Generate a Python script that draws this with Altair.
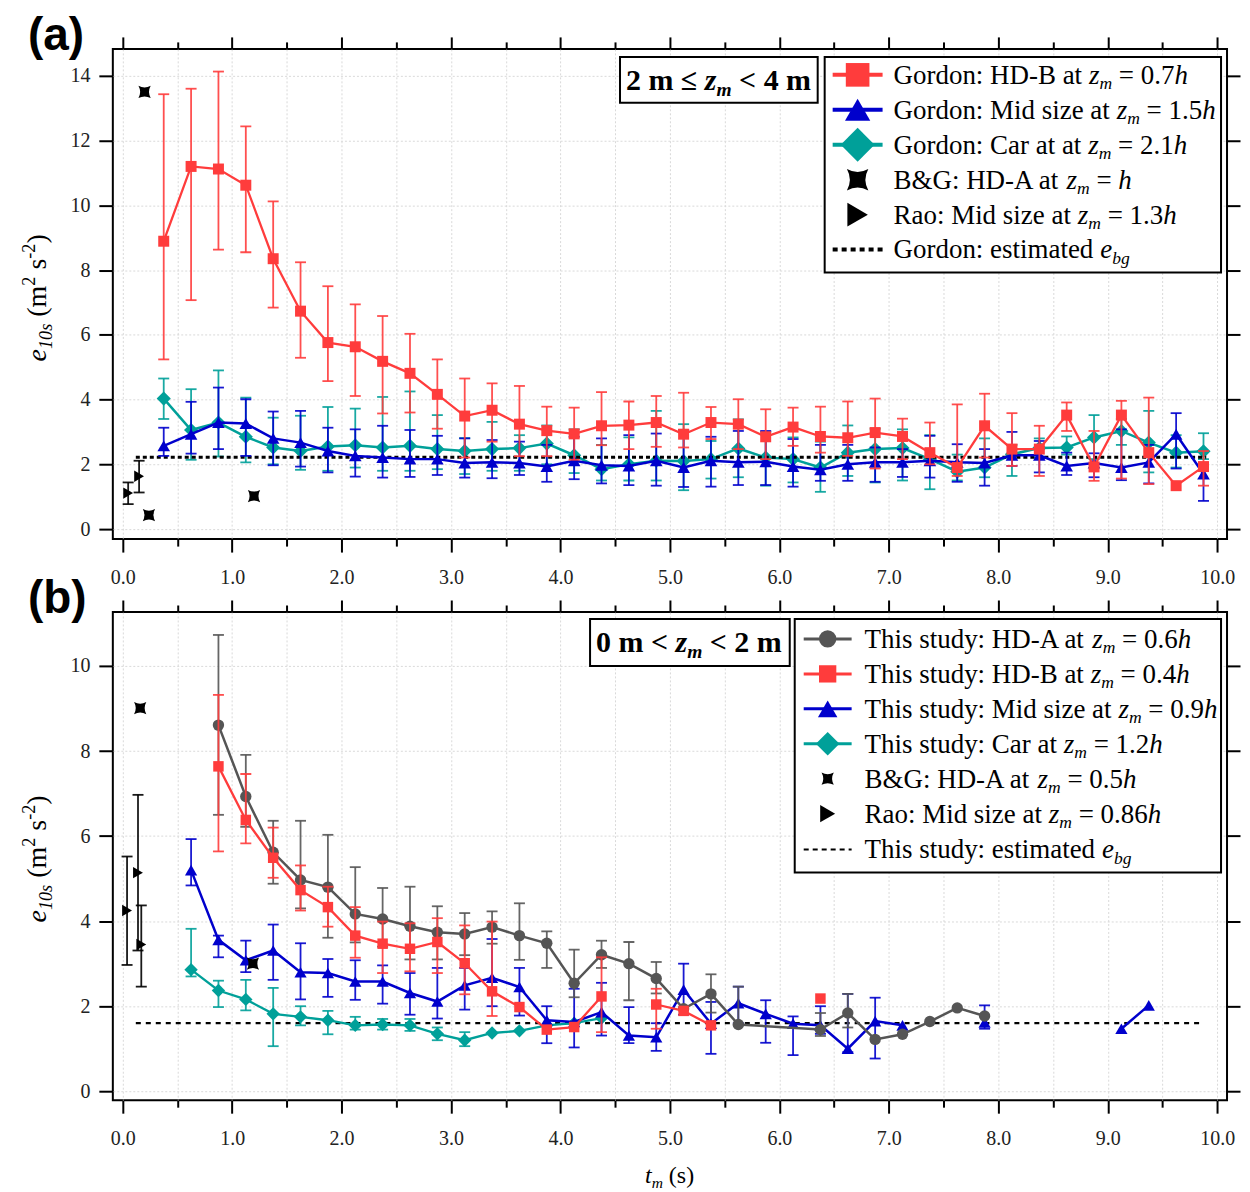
import altair as alt
import pandas as pd

SERIF = "Liberation Serif"
SANS = "Liberation Sans"
RED = "#FF3C3C"
BLUE = "#0000CC"
TEAL = "#00A099"
GRAY = "#555555"
BLACK = "#000000"
STAR = "M-1,-1Q0,-0.45 1,-1Q0.45,0 1,1Q0,0.45 -1,1Q-0.45,0 -1,-1Z"

# ---------------- panel (a) data ----------------
A_T = [0.375, 0.625, 0.875, 1.125, 1.375, 1.625, 1.875, 2.125, 2.375, 2.625,
       2.875, 3.125, 3.375, 3.625, 3.875, 4.125, 4.375, 4.625, 4.875, 5.125,
       5.375, 5.625, 5.875, 6.125, 6.375, 6.625, 6.875, 7.125, 7.375, 7.625,
       7.875, 8.125, 8.375, 8.625, 8.875, 9.125, 9.375, 9.625, 9.875]
A_RED = [8.89, 11.2, 11.12, 10.62, 8.35, 6.73, 5.76, 5.63, 5.18, 4.81,
         4.16, 3.49, 3.67, 3.24, 3.04, 2.94, 3.19, 3.21, 3.29, 2.93,
         3.29, 3.24, 2.85, 3.15, 2.86, 2.82, 2.98, 2.86, 2.36, 1.90,
         3.19, 2.47, 2.47, 3.52, 1.92, 3.52, 2.36, 1.34, 1.93]
A_RED_LO = [5.24, 7.07, 8.63, 8.55, 6.84, 5.29, 4.57, 4.11, 3.57, 3.60,
            3.10, 2.21, 2.70, 2.25, 2.25, 2.14, 2.59, 2.47, 2.54, 2.52,
            2.78, 2.47, 2.16, 2.57, 2.36, 2.26, 1.87, 2.16, 2.00, 1.64,
            2.21, 1.95, 1.64, 3.03, 1.49, 1.56, 1.39, None, 1.34]
A_RED_HI = [13.43, 13.6, 14.13, 12.44, 10.12, 8.24, 7.50, 6.94, 6.58, 6.03,
            5.24, 4.65, 4.50, 4.42, 3.78, 3.75, 4.23, 3.94, 4.11, 4.21,
            3.77, 4.01, 3.70, 3.75, 3.78, 3.94, 4.03, 3.41, 3.29, 3.85,
            4.18, 3.58, 3.19, 3.91, 3.03, 3.96, 4.06, None, 2.41]
A_BLUE = [2.57, 2.93, 3.29, 3.26, 2.80, 2.67, 2.41, 2.26, 2.21, 2.16,
          2.16, 2.04, 2.06, 2.04, 1.93, 2.11, 1.97, 1.95, 2.11, 1.90,
          2.11, 2.06, 2.08, 1.93, 1.83, 2.00, 2.06, 2.06, 2.11, 2.06,
          2.04, 2.28, 2.28, 1.95, 2.04, 1.90, 2.06, 2.93, 1.70]
A_BLUE_LO = [2.26, 2.33, 2.47, 2.26, 1.97, 1.93, 1.75, 1.62, 1.59, 1.61,
             1.67, 1.59, 1.57, 1.67, 1.46, 1.54, 1.41, 1.36, 1.34, 1.30,
             1.31, 1.36, 1.36, 1.31, 1.49, 1.49, 1.46, 1.61, 1.59, 1.46,
             1.34, 1.95, 1.75, 1.67, 1.60, 1.51, 1.41, 1.87, 0.87]
A_BLUE_HI = [3.13, 3.93, 4.37, 4.01, 3.63, 3.65, 3.13, 3.08, 3.19, 3.06,
             2.88, 2.80, 2.75, 2.70, 2.60, 2.85, 2.80, 2.90, 2.95, 3.06,
             2.85, 3.03, 3.03, 2.78, 2.60, 2.60, 2.52, 2.47, 2.88, 2.62,
             2.47, 3.00, 2.72, 2.36, 2.34, 3.08, 2.60, 3.58, 1.95]
A_TEAL = [4.03, 3.06, 3.29, 2.85, 2.52, 2.41, 2.55, 2.59, 2.52, 2.57,
          2.47, 2.41, 2.47, 2.50, 2.64, 2.28, 1.85, 2.00, 2.11, 2.10,
          2.16, 2.49, 2.21, 2.16, 1.90, 2.36, 2.47, 2.50, 2.16, 1.77,
          1.90, 2.31, 2.50, 2.52, 2.83, 3.03, 2.67, 2.36, 2.40]
A_TEAL_LO = [3.40, 2.14, 2.24, 2.06, 2.00, 1.83, 1.80, 1.90, 1.80, 1.80,
             1.85, 1.70, 1.80, 1.80, 2.00, 1.73, 1.50, 1.50, 1.50, 1.20,
             1.56, 1.60, 1.34, 1.44, 1.15, 1.64, 1.44, 1.50, 1.23, 1.50,
             1.60, 1.64, 2.20, 2.30, 2.16, 2.60, 1.75, 1.90, 2.16]
A_TEAL_HI = [4.65, 4.32, 4.90, 4.06, 3.44, 3.50, 3.77, 3.72, 4.08, 4.25,
             3.52, 2.81, 3.31, 2.90, 3.20, 3.08, 2.60, 2.83, 3.65, 3.24,
             2.72, 3.39, 3.00, 2.83, 2.70, 3.20, 3.10, 3.08, 2.90, 2.30,
             2.80, 2.60, 2.80, 2.86, 3.52, 3.40, 3.65, 2.90, 2.96]
A_BG_T = [0.20, 0.24, 1.20]
A_BG_V = [13.5, 0.43, 1.02]
A_BG_LO = [None, 0.36, None]
A_BG_HI = [None, 0.50, None]
A_RAO_T = [0.05, 0.15]
A_RAO_V = [1.11, 1.63]
A_RAO_LO = [0.77, 1.13]
A_RAO_HI = [1.44, 2.11]
A_EBG_T = [0.12, 9.90]
A_EBG_V = [2.22, 2.22]

# ---------------- panel (b) data ----------------
B_GRAY_T = [0.875, 1.125, 1.375, 1.625, 1.875, 2.125, 2.375, 2.625, 2.875, 3.125,
            3.375, 3.625, 3.875, 4.125, 4.375, 4.625, 4.875, 5.125, 5.375, 5.625,
            6.375, 6.625, 6.875, 7.125, 7.375, 7.625, 7.875]
B_GRAY = [8.61, 6.93, 5.62, 4.97, 4.80, 4.17, 4.05, 3.88, 3.74, 3.70,
          3.86, 3.66, 3.48, 2.54, 3.21, 3.00, 2.65, 1.94, 2.29, 1.57,
          1.45, 1.84, 1.22, 1.34, 1.64, 1.96, 1.77]
B_GRAY_LO = [6.50, 6.22, 4.88, 4.30, 3.61, 3.50, 3.40, 3.10, 3.10, 3.20,
             3.47, 3.09, 2.90, 2.21, 2.90, 2.14, 2.30, None, 1.85, 1.55,
             1.30, 1.50, None, None, None, None, None]
B_GRAY_HI = [10.73, 7.91, 6.36, 6.36, 6.03, 5.27, 4.78, 4.81, 4.35, 4.19,
             4.23, 4.42, 3.76, 3.33, 3.54, 3.51, 3.04, None, 2.75, 2.46,
             1.84, 2.29, None, None, None, None, None]
B_GRAY_SEG = [0] * 27
B_RED_T = [0.875, 1.125, 1.375, 1.625, 1.875, 2.125, 2.375, 2.625, 2.875, 3.125,
           3.375, 3.625, 3.875, 4.125, 4.375, 4.875, 5.125, 5.375, 6.375]
B_RED = [7.64, 6.38, 5.49, 4.73, 4.33, 3.66, 3.47, 3.35, 3.51, 3.01,
         2.35, 1.98, 1.45, 1.51, 2.23, 2.04, 1.89, 1.55, 2.18]
B_RED_LO = [5.64, 5.83, 5.02, 4.25, 3.87, 3.14, 2.78, 2.82, 2.78, 2.28,
            1.77, None, None, None, 1.39, 1.47, None, None, None]
B_RED_HI = [9.32, 7.46, 6.20, 5.31, 4.81, 4.33, 3.99, 3.95, 4.07, 3.90,
            3.99, None, None, None, 3.15, 2.41, None, None, None]
B_RED_SEG = [0] * 15 + [1, 1, 1, 2]
B_BLUE_T = [0.625, 0.875, 1.125, 1.375, 1.625, 1.875, 2.125, 2.375, 2.625, 2.875,
            3.125, 3.375, 3.625, 3.875, 4.125, 4.375, 4.625, 4.875, 5.125, 5.375,
            5.625, 5.875, 6.125, 6.375, 6.625, 6.875, 7.125, 7.875, 9.125, 9.375]
B_BLUE = [5.20, 3.56, 3.08, 3.31, 2.80, 2.78, 2.58, 2.58, 2.31, 2.11,
          2.49, 2.67, 2.45, 1.67, 1.63, 1.86, 1.31, 1.27, 2.39, 1.59,
          2.07, 1.82, 1.59, 1.55, 1.00, 1.65, 1.55, 1.62, 1.47, 2.02]
B_BLUE_LO = [4.84, 3.15, 2.80, 2.62, 2.16, 2.22, 2.15, 2.06, 1.80, 1.71,
             1.92, 2.00, 1.78, 1.13, 1.03, 1.31, 1.13, 0.95, 1.80, 0.88,
             1.60, 1.14, 0.85, 1.35, 0.92, 0.77, None, 1.47, None, None]
B_BLUE_HI = [5.93, 3.66, 3.54, 3.92, 3.48, 3.11, 3.08, 2.96, 2.78, 2.90,
             2.90, 3.58, 2.90, 2.00, 2.41, 2.55, 1.98, 1.60, 3.00, 2.10,
             2.46, 2.14, 1.76, 2.00, 2.29, 2.20, None, 2.02, None, None]
B_BLUE_SEG = [0] * 27 + [1, 2, 2]
B_TEAL_T = [0.625, 0.875, 1.125, 1.375, 1.625, 1.875, 2.125, 2.375, 2.625, 2.875,
            3.125, 3.375, 3.625, 3.875, 4.125, 4.375]
B_TEAL = [2.86, 2.37, 2.16, 1.82, 1.75, 1.67, 1.55, 1.57, 1.55, 1.35,
          1.20, 1.37, 1.42, 1.55, 1.60, 1.72]
B_TEAL_LO = [2.70, 1.98, 1.90, 1.06, 1.55, 1.34, 1.45, 1.45, 1.42, 1.20,
             1.06, None, None, None, None, None]
B_TEAL_HI = [3.82, 2.60, 2.62, 2.43, 2.00, 1.89, 1.75, 1.70, 1.70, 1.50,
             1.39, None, None, None, None, None]
B_BG_T = [0.16, 1.19]
B_BG_V = [9.01, 3.00]
B_RAO_T = [0.04, 0.14, 0.17]
B_RAO_V = [4.25, 5.14, 3.45]
B_RAO_LO = [2.97, 3.31, 2.46]
B_RAO_HI = [5.52, 6.97, 4.37]
B_EBG_T = [0.12, 9.88]
B_EBG_V = [1.60, 1.60]

# ---------------- axes ----------------
X_TICKS = [0.0, 0.5, 1.0, 1.5, 2.0, 2.5, 3.0, 3.5, 4.0, 4.5, 5.0,
           5.5, 6.0, 6.5, 7.0, 7.5, 8.0, 8.5, 9.0, 9.5, 10.0]
A_Y_TICKS = [0, 2, 4, 6, 8, 10, 12, 14]
B_Y_TICKS = [0, 2, 4, 6, 8, 10]
X_DOMAIN = [-0.09, 10.09]
A_Y_DOMAIN = [-0.31, 14.83]
B_Y_DOMAIN = [-0.21, 11.27]

W = 1116
A_H = 491
B_H = 489
LEG_FS = 27
ANN_FS = 30

ONE = pd.DataFrame({"k": [0]})

# Times / Liberation Serif advance widths (per 1000 em)
W_R = {' ': 250, ':': 278, '=': 564, '.': 250, '&': 778, '-': 333, '(': 333, ')': 333,
       '<': 564, '≤': 549, 'A': 722, 'B': 667, 'C': 667, 'D': 722, 'G': 722, 'H': 722,
       'M': 889, 'R': 667, 'T': 611, 'a': 444, 'b': 500, 'c': 444, 'd': 500, 'e': 444,
       'g': 500, 'h': 500, 'i': 278, 'l': 278, 'm': 778, 'n': 500, 'o': 500, 'r': 333,
       's': 389, 't': 278, 'u': 500, 'y': 500, 'z': 444}
W_I = {'z': 389, 'm': 722, 'h': 500, 'e': 444, 'b': 500, 'g': 500, 't': 278, 's': 389}
W_B = {' ': 250, 'm': 833, '<': 570, '≤': 549}
W_BI = {'z': 389, 'm': 778}


def tw(s, size, style):
    tbl = {"r": W_R, "i": W_I, "b": W_B, "bi": W_BI}[style]
    tot = 0
    for ch in s:
        if ch.isdigit():
            tot += 500
        else:
            tot += tbl.get(ch, W_R.get(ch, 500))
    return tot * size / 1000.0


def rich(segs, x0, y0, size, angle=0, color=BLACK):
    out = []
    u = 0.0
    for text, style, kind in segs:
        s = size * 0.65 if kind in ("sub", "sup") else size
        v = 0.2 * size if kind == "sub" else (-0.38 * size if kind == "sup" else 0.0)
        body = text.strip(" ")
        lead = len(text) - len(text.lstrip(" "))
        trail = len(text) - len(text.rstrip(" "))
        u += tw(" " * lead, s, style)
        if angle == 0:
            x, y = x0 + u, y0 + v
        else:
            x, y = x0 + v, y0 - u
        if body:
            out.append(alt.Chart(ONE).mark_text(
                text=body, font=SERIF, fontSize=s,
                fontStyle="italic" if "i" in style else "normal",
                fontWeight="bold" if "b" in style else "normal",
                align="left", baseline="alphabetic", angle=angle, color=color,
            ).encode(x=alt.value(x), y=alt.value(y)))
        u += tw(body, s, style) + tw(" " * trail, s, style)
    return out


def zlab(prefix, num):
    return [(prefix, "r", "n"), ("z", "i", "n"), ("m", "i", "sub"),
            (" = " + num, "r", "n"), ("h", "i", "n")]


def make_df(t, v, lo=None, hi=None, seg=None):
    n = len(t)
    return pd.DataFrame({
        "t": t, "v": v,
        "lo": lo if lo is not None else [None] * n,
        "hi": hi if hi is not None else [None] * n,
        "seg": seg if seg is not None else [0] * n,
    })


def axes_layers(df, xs, ys, yticks):
    major = "datum.value % 1 === 0"
    bottom = alt.Axis(orient="bottom", values=X_TICKS, title=None, domain=False,
                      labelExpr=f"{major} ? format(datum.value, '.1f') : ''",
                      labelFont=SERIF, labelFontSize=20, labelColor="#222222",
                      labelPadding=15, tickColor=BLACK, tickWidth=2,
                      tickSize={"condition": {"test": major, "value": 13}, "value": 7},
                      grid=True, gridColor="#d9d9d9", gridDash=[2, 2], gridWidth=1)
    left = alt.Axis(orient="left", values=yticks, title=None, domain=False,
                    labelFont=SERIF, labelFontSize=20, labelColor="#222222",
                    labelPadding=9, tickColor=BLACK, tickWidth=2, tickSize=14,
                    grid=True, gridColor="#d9d9d9", gridDash=[2, 2], gridWidth=1)
    top = alt.Axis(orient="top", values=X_TICKS, title=None, domain=False, labels=False,
                   tickColor=BLACK, tickWidth=2, grid=False,
                   tickSize={"condition": {"test": major, "value": 12}, "value": 7})
    right = alt.Axis(orient="right", values=yticks, title=None, domain=False, labels=False,
                     tickColor=BLACK, tickWidth=2, tickSize=13, grid=False)
    l1 = alt.Chart(df).mark_line(opacity=0).encode(
        x=alt.X("t:Q", scale=xs, axis=bottom), y=alt.Y("v:Q", scale=ys, axis=left))
    l2 = alt.Chart(df).mark_line(opacity=0).encode(
        x=alt.X("t:Q", scale=xs, axis=top), y=alt.Y("v:Q", scale=ys, axis=right))
    return [l1, l2]


def series(df, xs, ys, color, shape, size, lw=2.5, line=True, ebw=1.8, cap=11,
           ecolor=None, eop=0.9):
    ec = ecolor or color
    X = alt.X("t:Q", scale=xs, axis=None)
    out = []
    e = df.dropna(subset=["lo", "hi"])
    if len(e):
        ch = alt.Chart(e)
        out.append(ch.mark_rule(color=ec, strokeWidth=ebw, opacity=eop).encode(
            x=X, y=alt.Y("lo:Q", scale=ys, axis=None), y2="hi:Q"))
        out.append(ch.mark_tick(color=ec, orient="horizontal", size=cap, thickness=ebw,
                                opacity=eop).encode(
            x=X, y=alt.Y("lo:Q", scale=ys, axis=None)))
        out.append(ch.mark_tick(color=ec, orient="horizontal", size=cap, thickness=ebw,
                                opacity=eop).encode(
            x=X, y=alt.Y("hi:Q", scale=ys, axis=None)))
    if line:
        out.append(alt.Chart(df).mark_line(color=color, strokeWidth=lw).encode(
            x=X, y=alt.Y("v:Q", scale=ys, axis=None), detail="seg:N"))
    out.append(alt.Chart(df).mark_point(filled=True, shape=shape, size=size, color=color,
                                        opacity=1, strokeWidth=0).encode(
        x=X, y=alt.Y("v:Q", scale=ys, axis=None)))
    return out


def ebg_layer(df, xs, ys, dash, width):
    return alt.Chart(df).mark_line(color=BLACK, strokeDash=dash, strokeWidth=width).encode(
        x=alt.X("t:Q", scale=xs, axis=None), y=alt.Y("v:Q", scale=ys, axis=None))


def box(x1, x2, y1, y2):
    return alt.Chart(ONE).mark_rect(fill="white", stroke=BLACK, strokeWidth=2).encode(
        x=alt.value(x1), x2=alt.value(x2), y=alt.value(y1), y2=alt.value(y2))


def legend(entries, bx, line_x, mark_x, text_x, rows, fsize, lw, dot_w, dot_dash):
    out = [box(*bx)]
    for (kind, color, shape, msize, segs), yc in zip(entries, rows):
        if kind == "line":
            out.append(alt.Chart(ONE).mark_rule(color=color, strokeWidth=lw).encode(
                x=alt.value(line_x[0]), x2=alt.value(line_x[1]), y=alt.value(yc)))
        elif kind == "dot":
            out.append(alt.Chart(ONE).mark_rule(color=color, strokeWidth=dot_w,
                                                strokeDash=dot_dash).encode(
                x=alt.value(line_x[0]), x2=alt.value(line_x[1]), y=alt.value(yc)))
        if shape:
            out.append(alt.Chart(ONE).mark_point(filled=True, shape=shape, size=msize,
                                                 color=color, opacity=1, strokeWidth=0).encode(
                x=alt.value(mark_x), y=alt.value(yc)))
        out += rich(segs, text_x, yc + 0.33 * fsize, fsize)
    return out


def panel_label(txt, y):
    return alt.Chart(ONE).mark_text(text=txt, font=SANS, fontSize=46, fontWeight="bold",
                                    align="left", baseline="alphabetic").encode(
        x=alt.value(-85), y=alt.value(y))


YTITLE = [("e", "i", "n"), ("10s", "i", "sub"), (" (m", "r", "n"), ("2", "r", "sup"),
          (" s", "r", "n"), ("-2", "r", "sup"), (")", "r", "n")]

# ---------------- panel (a) ----------------
xs = alt.Scale(domain=X_DOMAIN, nice=False, zero=False)
ysa = alt.Scale(domain=A_Y_DOMAIN, nice=False, zero=False)

a_red = make_df(A_T, A_RED, A_RED_LO, A_RED_HI)
a_blue = make_df(A_T, A_BLUE, A_BLUE_LO, A_BLUE_HI)
a_teal = make_df(A_T, A_TEAL, A_TEAL_LO, A_TEAL_HI)
a_bg = make_df(A_BG_T, A_BG_V, A_BG_LO, A_BG_HI)
a_rao = make_df(A_RAO_T, A_RAO_V, A_RAO_LO, A_RAO_HI)
a_ebg = make_df(A_EBG_T, A_EBG_V)

a_layers = axes_layers(a_ebg, xs, ysa, A_Y_TICKS)
a_layers += series(a_teal, xs, ysa, TEAL, "diamond", 200, lw=2.5)
a_layers += [ebg_layer(a_ebg, xs, ysa, [4, 3], 3)]
a_layers += series(a_blue, xs, ysa, BLUE, "triangle-up", 160, lw=2.5)
a_layers += series(a_red, xs, ysa, RED, "square", 121, lw=2.3)
a_layers += series(a_bg, xs, ysa, BLACK, STAR, 150, line=False, cap=9)
a_layers += series(a_rao, xs, ysa, BLACK, "triangle-right", 130, line=False, cap=11)

a_layers += [box(508, 706, 8, 54)]
a_layers += rich([("2 m ≤ ", "b", "n"), ("z", "bi", "n"), ("m", "bi", "sub"),
                  (" < 4 m", "b", "n")], 514, 41, ANN_FS)
A_LEG = [
    ("line", RED, "square", 560, zlab("Gordon: HD-B at ", "0.7")),
    ("line", BLUE, "triangle-up", 640, zlab("Gordon: Mid size at ", "1.5")),
    ("line", TEAL, "diamond", 1150, zlab("Gordon: Car at at ", "2.1")),
    ("none", BLACK, STAR, 460, zlab("B&G: HD-A at ", "")),
    ("none", BLACK, "triangle-right", 560, zlab("Rao: Mid size at ", "1.3")),
    ("dot", BLACK, None, 0, [("Gordon: estimated ", "r", "n"), ("e", "i", "n"),
                             ("bg", "i", "sub")]),
]
a_layers += legend(A_LEG, (713, 1110, 8, 224), (721, 771), 746, 782,
                   [26, 61, 96, 131, 166, 201], LEG_FS, 4, 4, [5, 4])
a_layers += [panel_label("(a)", 1)]
a_layers += rich(YTITLE, -67, 313, 28, angle=270)

panel_a = alt.layer(*a_layers).resolve_axis(x="independent", y="independent").properties(
    width=W, height=A_H)

# ---------------- panel (b) ----------------
ysb = alt.Scale(domain=B_Y_DOMAIN, nice=False, zero=False)
b_gray = make_df(B_GRAY_T, B_GRAY, B_GRAY_LO, B_GRAY_HI, B_GRAY_SEG)
b_red = make_df(B_RED_T, B_RED, B_RED_LO, B_RED_HI, B_RED_SEG)
b_blue = make_df(B_BLUE_T, B_BLUE, B_BLUE_LO, B_BLUE_HI, B_BLUE_SEG)
b_teal = make_df(B_TEAL_T, B_TEAL, B_TEAL_LO, B_TEAL_HI)
b_bg = make_df(B_BG_T, B_BG_V)
b_rao = make_df(B_RAO_T, B_RAO_V, B_RAO_LO, B_RAO_HI)
b_ebg = make_df(B_EBG_T, B_EBG_V)

b_layers = axes_layers(b_ebg, xs, ysb, B_Y_TICKS)
b_layers += [ebg_layer(b_ebg, xs, ysb, [5, 5], 2.2)]
b_layers += series(b_teal, xs, ysb, TEAL, "diamond", 180, lw=2.3)
b_layers += series(b_blue, xs, ysb, BLUE, "triangle-up", 150, lw=2.5)
b_layers += series(b_gray, xs, ysb, GRAY, "circle", 130, lw=2.5)
b_layers += series(b_red, xs, ysb, RED, "square", 110, lw=2.3)
b_layers += series(b_bg, xs, ysb, BLACK, STAR, 150, line=False)
b_layers += series(b_rao, xs, ysb, BLACK, "triangle-right", 130, line=False, cap=11)

b_layers += [box(478, 678, 7, 54)]
b_layers += rich([("0 m < ", "b", "n"), ("z", "bi", "n"), ("m", "bi", "sub"),
                  (" < 2 m", "b", "n")], 484, 40, ANN_FS)
B_LEG = [
    ("line", GRAY, "circle", 300, zlab("This study: HD-A at ", "0.6")),
    ("line", RED, "square", 300, zlab("This study: HD-B at ", "0.4")),
    ("line", BLUE, "triangle-up", 380, zlab("This study: Mid size at ", "0.9")),
    ("line", TEAL, "diamond", 560, zlab("This study: Car at ", "1.2")),
    ("none", BLACK, STAR, 150, zlab("B&G: HD-A at ", "0.5")),
    ("none", BLACK, "triangle-right", 300, zlab("Rao: Mid size at ", "0.86")),
    ("dot", BLACK, None, 0, [("This study: estimated ", "r", "n"), ("e", "i", "n"),
                             ("bg", "i", "sub")]),
]
b_layers += legend(B_LEG, (683, 1110, 7, 261), (692, 740), 716, 753,
                   [27, 62, 97, 132, 167, 202, 238], LEG_FS, 3, 2, [5, 4])
b_layers += [panel_label("(b)", 1)]
b_layers += rich(YTITLE, -67, 311, 28, angle=270)
b_layers += rich([("t", "i", "n"), ("m", "i", "sub"), (" (s)", "r", "n")], 533, 572, 24)

panel_b = alt.layer(*b_layers).resolve_axis(x="independent", y="independent").properties(
    width=W, height=B_H)

chart = alt.vconcat(panel_a, panel_b, spacing=73, bounds="flush").properties(
    padding={"left": 11, "top": 3, "right": 0, "bottom": 0}
).configure_view(stroke=BLACK, strokeWidth=2)

chart.save("out.html", embed_options={"renderer": "svg", "actions": False})
